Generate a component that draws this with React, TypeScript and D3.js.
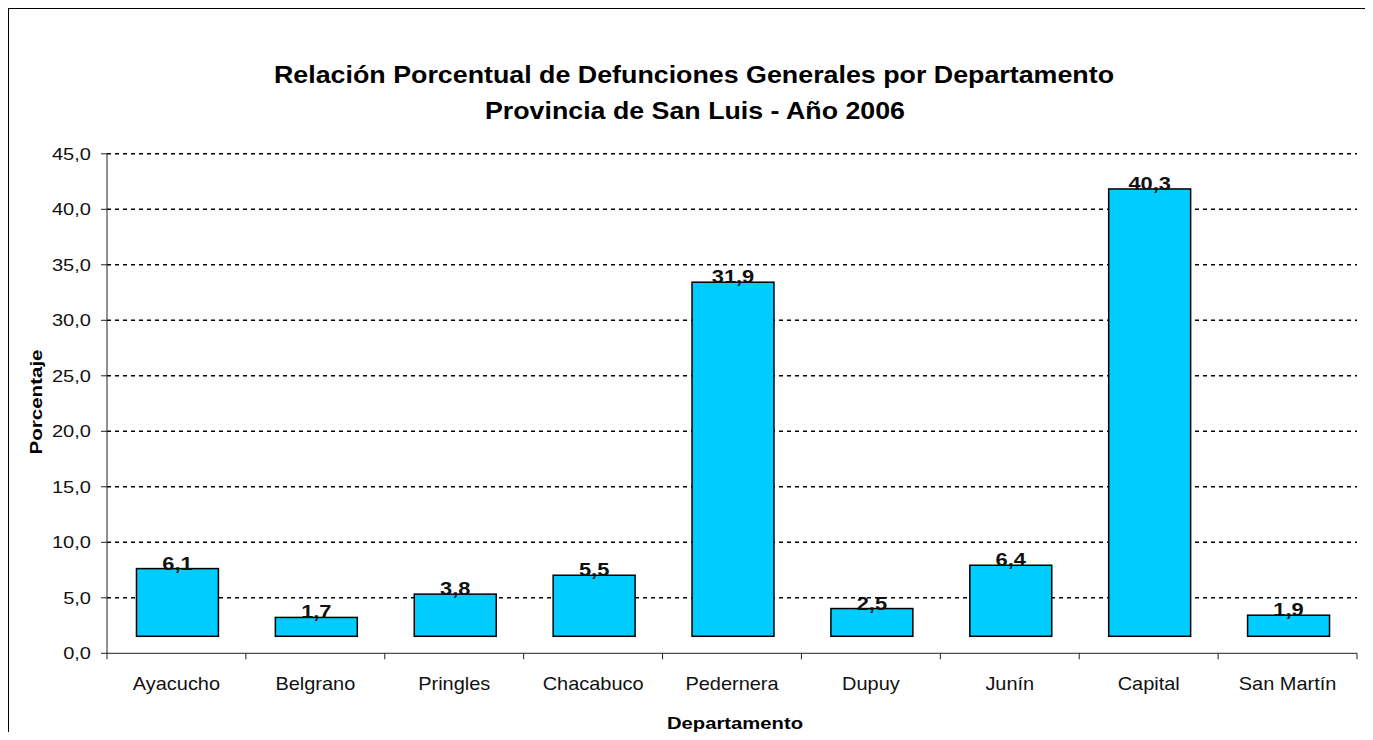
import React, { useEffect } from "react";
import * as d3 from "d3";

const categories = ["Ayacucho", "Belgrano", "Pringles", "Chacabuco", "Pedernera", "Dupuy", "Junín", "Capital", "San Martín"];
const values = [6.1, 1.7, 3.8, 5.5, 31.9, 2.5, 6.4, 40.3, 1.9];
const yTicks = [0, 5, 10, 15, 20, 25, 30, 35, 40, 45];
const titleLines = ["Relación Porcentual de Defunciones Generales por Departamento", "Provincia de San Luis - Año 2006"];
const yTitle = "Porcentaje";
const xTitle = "Departamento";

const FONT = "'Liberation Sans', Arial, sans-serif";

export default function App() {
  useEffect(() => {
    document.documentElement.style.overflow = "hidden";
    document.body.style.overflow = "hidden";
  }, []);

  const left = 107, right = 1357, top = 153.8, bottom = 653.3;
  const x = d3.scaleBand<string>().domain(categories).range([left, right]).padding(0);
  const y = d3.scaleLinear().domain([0, 45]).range([bottom, top]);
  const barW = x.bandwidth() * 0.59;
  const lift = 17;
  const fmt = (v: number) => v.toFixed(1).replace(".", ",");
  const sx = 1.18;

  return (
    <svg width={1365} height={724} style={{ display: "block", overflow: "visible" }}>
      <g transform="translate(-8,-8)">
        <rect x={8.5} y={8.5} width={1400} height={800} fill="white" stroke="black" strokeWidth={1} />
        {/* title */}
        <text x={694} y={83} textAnchor="middle" fontFamily={FONT} fontWeight="bold" fontSize={24} textLength={840} lengthAdjust="spacingAndGlyphs">{titleLines[0]}</text>
        <text x={695} y={119} textAnchor="middle" fontFamily={FONT} fontWeight="bold" fontSize={24} textLength={420} lengthAdjust="spacingAndGlyphs">{titleLines[1]}</text>
        {/* gridlines */}
        {yTicks.filter((t) => t > 0).map((t) => (
          <line key={"g" + t} x1={left} x2={right} y1={y(t)} y2={y(t)} stroke="black" strokeWidth={1.5} strokeDasharray="4,4" />
        ))}
        {/* y axis */}
        <line x1={left} x2={left} y1={top} y2={bottom} stroke="#222" strokeWidth={1} />
        {yTicks.map((t) => (
          <g key={"t" + t}>
            <line x1={left - 6} x2={left} y1={y(t)} y2={y(t)} stroke="#222" strokeWidth={1} />
            <text transform={`translate(91,${y(t)}) scale(${sx},1)`} textAnchor="end" dominantBaseline="central" fontFamily={FONT} fontSize={17} fill="#111">{fmt(t)}</text>
          </g>
        ))}
        {/* x axis */}
        <line x1={left} x2={right} y1={bottom} y2={bottom} stroke="#222" strokeWidth={1} />
        {[...categories.map((c) => x(c) as number), right].map((px, i) => (
          <line key={"xt" + i} x1={px} x2={px} y1={bottom} y2={bottom + 6} stroke="#222" strokeWidth={1} />
        ))}
        {categories.map((c) => (
          <text key={"c" + c} transform={`translate(${(x(c) as number) + x.bandwidth() / 2},690) scale(1.05,1)`} textAnchor="middle" fontFamily={FONT} fontSize={19} fill="#111">{c}</text>
        ))}
        {/* bars */}
        {values.map((v, i) => {
          const cx = (x(categories[i]) as number) + x.bandwidth() / 2 + 1;
          const yt = y(v) - lift;
          const yb = y(0) - lift;
          return (
            <g key={"b" + i}>
              <rect x={cx - barW / 2} y={yt} width={barW} height={yb - yt} fill="#00CCFF" stroke="black" strokeWidth={1.5} />
              <text transform={`translate(${cx},${yt + 1}) scale(1.15,1)`} textAnchor="middle" fontFamily={FONT} fontWeight="bold" fontSize={19} fill="#111">{fmt(v)}</text>
            </g>
          );
        })}
        {/* axis titles */}
        <text transform="translate(42,402) rotate(-90)" textAnchor="middle" fontFamily={FONT} fontWeight="bold" fontSize={17} textLength={105} lengthAdjust="spacingAndGlyphs">{yTitle}</text>
        <text x={735} y={729} textAnchor="middle" fontFamily={FONT} fontWeight="bold" fontSize={17} textLength={136} lengthAdjust="spacingAndGlyphs">{xTitle}</text>
      </g>
    </svg>
  );
}
